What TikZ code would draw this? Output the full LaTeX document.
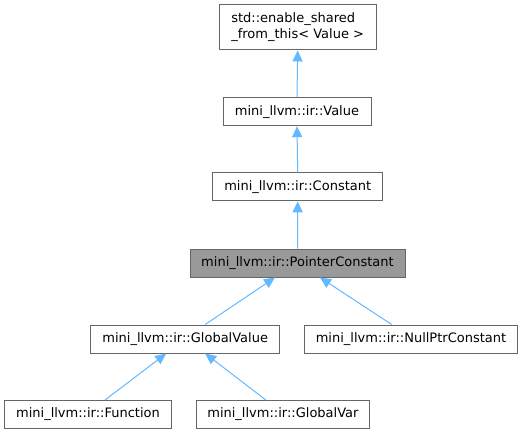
\documentclass[tikz,border=0pt]{standalone}
\usepackage{fontspec}
\setmainfont{DejaVu Sans}
\usetikzlibrary{arrows.meta}
\definecolor{edgeblue}{HTML}{63B8FF}
\definecolor{boxgray}{HTML}{666666}
\begin{document}
\begin{tikzpicture}[x=1pt,y=-1pt,font=\fontsize{13}{16.5}\selectfont]
\tikzstyle{cls}=[draw=boxgray,line width=1pt,fill=white,minimum height=28pt,inner sep=0pt]
\tikzstyle{inh}=[draw=edgeblue,line width=1pt,-{Triangle[length=11pt,width=10pt]}]
\useasboundingbox (0,0) rectangle (523,434);
% classes
\node[cls,minimum width=156.7pt,minimum height=45.3pt,align=left] (esft) at (297.7,27.3)
  {std::enable\_shared\\\_from\_this< Value >};
\node[cls,minimum width=148pt] (Value) at (297,111.7) {mini\_llvm::ir::Value};
\node[cls,minimum width=170pt] (Constant) at (297.7,186.8) {mini\_llvm::ir::Constant};
\node[cls,minimum width=215pt,fill=black!40] (PointerConstant) at (297.5,263) {mini\_llvm::ir::PointerConstant};
\node[cls,minimum width=189pt] (GlobalValue) at (185.2,339) {mini\_llvm::ir::GlobalValue};
\node[cls,minimum width=213.7pt] (NullPtrConstant) at (411,339) {mini\_llvm::ir::NullPtrConstant};
\node[cls,minimum width=166.7pt] (Function) at (88,414.5) {mini\_llvm::ir::Function};
\node[cls,minimum width=173.7pt] (GlobalVar) at (282.9,414.5) {mini\_llvm::ir::GlobalVar};
% inheritance
\draw[inh] (Value.north) -- (esft.south);
\draw[inh] (Constant.north) -- (Value.south);
\draw[inh] (PointerConstant.north) -- (Constant.south);
\draw[inh] ([xshift=20pt]GlobalValue.north) -- ([xshift=-22.5pt]PointerConstant.south);
\draw[inh] ([xshift=-19.3pt]NullPtrConstant.north) -- ([xshift=22.5pt]PointerConstant.south);
\draw[inh] ([xshift=17pt]Function.north) -- ([xshift=-19pt]GlobalValue.south);
\draw[inh] ([xshift=-17pt]GlobalVar.north) -- ([xshift=20pt]GlobalValue.south);
\end{tikzpicture}
\end{document}
